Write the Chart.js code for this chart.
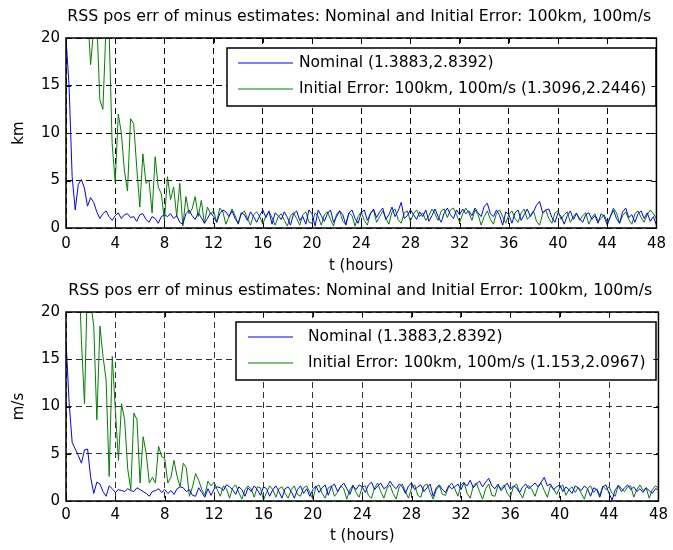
<!DOCTYPE html>
<html><head><meta charset="utf-8">
<script src="https://cdn.jsdelivr.net/npm/chart.js@4/dist/chart.umd.min.js"></script>
<style>
html,body{margin:0;padding:0;background:#fff;}
#wrap{position:relative;width:673px;height:550px;overflow:hidden;background:#fff;}
.c{position:absolute;left:0;width:673px;height:275px;}
</style></head><body>
<div id="wrap">
<div class="c" style="top:0"><canvas id="c1"></canvas></div>
<div class="c" style="top:275px"><canvas id="c2"></canvas></div>
</div>
<script>
// ---------- DATA ----------
const hours = [
0,0.25,0.5,0.75,1,1.25,1.5,1.75,
2,2.25,2.5,2.75,3,3.25,3.5,3.75,
4,4.25,4.5,4.75,5,5.25,5.5,5.75,
6,6.25,6.5,6.75,7,7.25,7.5,7.75,
8,8.25,8.5,8.75,9,9.25,9.5,9.75,
10,10.25,10.5,10.75,11,11.25,11.5,11.75,
12,12.25,12.5,12.75,13,13.25,13.5,13.75,
14,14.25,14.5,14.75,15,15.25,15.5,15.75,
16,16.25,16.5,16.75,17,17.25,17.5,17.75,
18,18.25,18.5,18.75,19,19.25,19.5,19.75,
20,20.25,20.5,20.75,21,21.25,21.5,21.75,
22,22.25,22.5,22.75,23,23.25,23.5,23.75,
24,24.25,24.5,24.75,25,25.25,25.5,25.75,
26,26.25,26.5,26.75,27,27.25,27.5,27.75,
28,28.25,28.5,28.75,29,29.25,29.5,29.75,
30,30.25,30.5,30.75,31,31.25,31.5,31.75,
32,32.25,32.5,32.75,33,33.25,33.5,33.75,
34,34.25,34.5,34.75,35,35.25,35.5,35.75,
36,36.25,36.5,36.75,37,37.25,37.5,37.75,
38,38.25,38.5,38.75,39,39.25,39.5,39.75,
40,40.25,40.5,40.75,41,41.25,41.5,41.75,
42,42.25,42.5,42.75,43,43.25,43.5,43.75,
44,44.25,44.5,44.75,45,45.25,45.5,45.75,
46,46.25,46.5,46.75,47,47.25,47.5,47.75,48];

const xTicks = [0,4,8,12,16,20,24,28,32,36,40,44,48];
const yTicks = [0,5,10,15,20];

const posNominal = [
20,15,5.4,1.9,4.6,5.1,4.2,2.3,
3.2,2.7,1.7,1.0,1.5,1.8,1.2,0.8,
1.3,1.6,1.0,1.4,1.5,1.1,1.2,0.7,
1.4,1.5,0.9,0.6,1.2,1.0,0.5,1.2,
1.4,1.2,1.5,1.0,1.3,0.6,0.4,1.5,
1.9,1.3,0.9,1.6,1.1,0.5,1.0,1.6,
1.2,0.6,1.5,1.9,1.7,1.2,1.8,1.0,
0.5,1.6,1.4,0.8,1.7,1.2,0.6,1.3,
1.9,1.1,1.8,0.4,1.6,1.3,0.9,1.7,
1.1,0.3,1.5,1.8,0.8,1.2,0.4,1.9,
1.5,0.2,1.9,1.3,0.7,1.5,1.9,0.6,
1.2,1.8,1.4,0.3,1.6,1.9,1.0,0.5,
1.6,1.9,0.8,1.5,2.0,1.1,1.7,2.1,
0.9,1.4,2.2,1.2,1.8,2.7,1.0,1.3,
1.9,1.4,0.9,1.7,1.2,1.9,0.7,1.3,
2.0,1.2,0.6,1.6,2.1,1.4,1.0,1.9,
1.4,2.0,1.5,1.8,1.3,2.1,1.6,1.2,
2.3,2.6,1.5,1.2,1.9,1.3,0.3,1.7,
1.4,0.5,1.6,1.9,0.8,1.4,2.0,1.2,
1.7,2.4,2.8,1.6,1.9,2.0,1.1,0.6,
1.6,1.2,0.4,1.3,1.8,0.9,1.5,1.0,
0.6,1.4,1.6,0.9,1.3,0.5,1.5,1.2,
0.3,1.2,1.9,1.0,0.5,1.7,2.1,1.1,
1.4,0.6,1.5,1.8,1.0,1.6,0.7,1.2,0.3];

const posInitErr = [
40,38,35,32,30,28,26,23,
17.2,21,22,13.5,12.5,21,21,8.9,
4.8,12,10,6,3.9,11.5,11,6.4,
2.2,7.8,4.7,5.0,1.6,7.5,4.3,3.6,
0.8,5.4,3.0,4.3,1.2,4.7,0.2,3.3,
1.5,2.0,3.3,1.2,2.9,0.5,2.2,1.5,
1.8,0.6,2.1,1.7,0.4,1.2,2.0,1.3,
0.4,1.5,1.8,1.0,0.3,1.4,1.7,1.2,
0.4,1.3,1.7,1.1,0.3,1.2,1.5,0.8,
0.2,1.3,1.6,1.0,0.3,1.4,1.7,0.6,
0.5,1.6,1.2,0.3,1.4,1.7,0.9,0.2,
1.5,1.8,0.7,0.4,1.6,1.3,0.2,1.2,
1.7,0.8,0.3,1.6,1.9,0.6,1.2,1.8,
1.0,0.4,1.7,2.0,0.9,0.5,1.6,1.8,
0.7,1.5,1.9,1.2,1.6,0.8,1.3,2.0,
1.5,0.8,1.8,2.0,1.1,1.9,2.1,1.4,
0.6,1.5,2.1,1.6,0.8,1.9,1.4,0.3,
1.2,1.8,0.9,0.4,1.6,1.9,1.2,0.5,
1.4,1.8,1.0,0.6,1.6,2.0,0.9,1.3,
1.8,0.7,0.3,1.5,1.9,1.0,0.5,1.6,
1.8,0.9,1.4,1.7,0.6,1.2,1.6,0.8,
1.3,1.6,0.4,1.1,1.5,0.7,1.0,1.4,
0.6,1.2,2.1,1.6,0.5,1.3,1.7,0.9,
0.4,1.5,1.8,1.1,0.6,1.4,1.9,1.5,1.0];

const velNominal = [
17,10.5,6.2,5.5,4.8,4.0,5.4,5.5,
2.5,0.8,2.0,1.8,1.0,0.5,1.6,1.3,
0.9,1.2,1.1,1.0,1.3,1.1,1.0,1.4,
1.2,1.0,0.8,0.5,1.0,1.1,1.3,0.9,
1.2,0.8,1.1,0.7,1.3,1.5,1.4,1.0,
1.2,0.6,0.5,1.4,0.9,0.4,1.3,0.6,
1.3,1.5,1.4,1.1,1.7,1.5,1.2,0.7,
1.5,1.2,0.5,1.4,1.0,1.6,1.2,0.6,
1.5,1.3,0.5,1.2,1.6,1.0,0.3,1.3,
1.5,1.0,0.3,1.2,1.6,0.8,1.3,0.5,
1.2,1.6,0.9,1.4,1.7,0.6,1.5,1.8,
1.0,1.5,1.9,1.3,0.7,1.6,1.2,1.7,
1.5,0.9,1.7,2.0,1.2,1.6,1.9,1.3,
1.5,2.1,1.6,1.3,1.8,1.5,0.8,1.6,
1.9,1.2,1.5,1.7,1.0,1.4,1.8,0.5,
1.4,1.7,1.2,0.9,1.6,1.3,1.5,1.8,
1.2,1.9,1.6,2.2,1.4,1.8,2.1,1.5,
2.0,2.4,1.6,1.3,1.8,1.1,1.5,1.9,
1.2,1.6,1.4,0.9,1.5,1.8,1.3,1.6,
1.9,1.5,2.0,2.5,1.6,1.8,1.2,1.5,
1.7,1.0,1.5,1.2,0.8,1.6,1.4,1.1,
1.6,1.3,0.5,1.4,1.2,0.4,1.5,1.7,
0.8,0.1,1.2,1.6,1.0,1.4,1.7,1.2,
1.5,1.0,1.3,0.9,1.4,1.1,0.8,1.3,1.2];

const velInitErr = [
60,48,38,30,26,17,10.3,24,
21,18.5,8.6,18.5,15.3,12.8,2.6,15.3,
9.6,4.3,10.3,8.6,3.4,1.2,9.3,8.6,
1.9,6.8,5.0,1.9,2.5,1.9,5.8,4.7,
4.5,1.9,2.5,4.3,2.6,1.5,4.0,3.5,
0.5,1.5,2.9,2.2,1.2,0.6,2.1,1.6,
2.0,1.2,0.5,1.6,1.3,0.3,1.4,1.7,
0.9,0.2,1.2,1.6,1.3,0.4,1.5,1.4,
0.1,0.9,1.6,1.2,0.4,1.3,1.5,0.8,
0.3,1.2,1.6,0.7,0.5,1.4,1.6,0.9,
0.2,1.5,1.7,0.8,0.3,1.4,1.6,0.5,
0.9,1.6,1.3,0.2,1.2,1.7,0.9,0.4,
1.5,1.6,0.6,0.3,1.4,1.9,1.0,0.3,
1.3,1.7,0.8,0.2,1.5,1.8,1.0,0.3,
1.4,1.7,0.6,0.4,1.6,1.8,0.9,0.2,
1.2,1.6,0.7,0.6,1.5,1.9,1.3,0.5,
1.7,2.0,0.8,0.3,1.6,1.9,1.0,0.2,
1.3,1.8,0.6,0.5,1.6,1.3,1.7,0.8,
0.4,1.5,1.8,0.9,0.3,1.4,1.6,1.2,
0.5,1.5,1.9,1.1,0.4,1.6,1.3,0.7,
1.4,1.7,0.6,1.2,1.5,0.9,1.4,0.8,
0.2,1.3,1.6,0.9,1.3,0.6,1.6,1.2,
1.5,0.8,0.5,1.7,1.3,1.0,1.5,1.6,
0.4,1.2,1.7,1.1,1.4,0.3,1.2,1.6,1.4];

const chartTitle = 'RSS pos err of minus estimates: Nominal and Initial Error: 100km, 100m/s';
const xLabel = 't (hours)';
const topYLabel = 'km';
const botYLabel = 'm/s';
const topLegend = ['Nominal (1.3883,2.8392)', 'Initial Error: 100km, 100m/s (1.3096,2.2446)'];
const botLegend = ['Nominal (1.3883,2.8392)', 'Initial Error: 100km, 100m/s (1.153,2.0967)'];
const seriesColors = ['#0000ff', '#008000'];

// ---------- RENDER ----------
const FONT = 'DejaVu Sans';

const framePlugin = {
  id: 'matlabFrame',
  afterDatasetsDraw(chart, args, opts) {
    const {ctx} = chart;
    const L = opts.legend;
    ctx.save();
    ctx.setLineDash([]);
    ctx.fillStyle = '#ffffff';
    ctx.fillRect(L.x0, L.y0, L.x1 - L.x0, L.y1 - L.y0);
    ctx.strokeStyle = '#000000';
    ctx.lineWidth = 1.5;
    ctx.strokeRect(L.x0, L.y0, L.x1 - L.x0, L.y1 - L.y0);
    ctx.font = '15.5px "' + FONT + '"';
    ctx.textBaseline = 'middle';
    ctx.textAlign = 'left';
    chart.data.datasets.forEach((ds, i) => {
      const y = L.rows[i];
      ctx.beginPath();
      ctx.strokeStyle = seriesColors[i];
      ctx.lineWidth = 1.2;
      ctx.moveTo(L.lx0, y);
      ctx.lineTo(L.lx1, y);
      ctx.stroke();
      ctx.fillStyle = '#000000';
      ctx.fillText(ds.label, L.tx, y);
    });
    ctx.restore();
  },
  afterDraw(chart, args, opts) {
    const {ctx, chartArea: a, scales} = chart;
    ctx.save();
    ctx.setLineDash([]);
    ctx.fillStyle = '#000';
    ctx.font = '15.8px "' + FONT + '"';
    ctx.textAlign = 'center';
    ctx.textBaseline = 'middle';
    ctx.fillText(opts.title, (a.left + a.right) / 2 - 2, opts.titleY);
    ctx.strokeStyle = '#000';
    ctx.lineWidth = 1;
    ctx.beginPath();
    scales.x.ticks.forEach(t => {
      const px = Math.round(scales.x.getPixelForValue(t.value)) + 0.5;
      ctx.moveTo(px, a.bottom); ctx.lineTo(px, a.bottom - 5);
      ctx.moveTo(px, a.top); ctx.lineTo(px, a.top + 5);
    });
    scales.y.ticks.forEach(t => {
      const py = Math.round(scales.y.getPixelForValue(t.value)) + 0.5;
      ctx.moveTo(a.left, py); ctx.lineTo(a.left + 5, py);
      ctx.moveTo(a.right, py); ctx.lineTo(a.right - 5, py);
    });
    ctx.stroke();
    ctx.lineWidth = 1.5;
    ctx.strokeRect(a.left, a.top, a.right - a.left, a.bottom - a.top);
    ctx.restore();
  }
};

function makeChart(id, yLabel, s1, s2, labels, geo) {
  return new Chart(document.getElementById(id), {
    type: 'line',
    data: {
      datasets: [
        {label: labels[0], data: hours.map((t, i) => ({x: t, y: s1[i]})),
         borderColor: seriesColors[0], borderWidth: 1, pointRadius: 0, tension: 0, fill: false},
        {label: labels[1], data: hours.map((t, i) => ({x: t, y: s2[i]})),
         borderColor: seriesColors[1], borderWidth: 1, pointRadius: 0, tension: 0, fill: false}
      ]
    },
    options: {
      responsive: true, maintainAspectRatio: false, animation: false,
      layout: {padding: {top: geo.top, right: 10, bottom: 0, left: 0}},
      plugins: {
        legend: {display: false}, tooltip: {enabled: false}, title: {display: false},
        matlabFrame: {title: chartTitle, titleY: geo.titleY, legend: geo.legend}
      },
      scales: {
        x: {
          type: 'linear', min: 0, max: 48,
          afterBuildTicks: s => { s.ticks = xTicks.map(v => ({value: v})); },
          ticks: {font: {family: FONT, size: 15}, color: '#000', padding: geo.xTickPad, autoSkip: false, maxRotation: 0},
          grid: {color: geo.gridColor, lineWidth: 1, drawTicks: false},
          border: {display: false, dash: [6, 4]},
          title: {display: true, text: xLabel, color: '#000', font: {family: FONT, size: 15}, padding: {top: 0, bottom: geo.xTitlePad}},
          afterFit: s => { s.height = 275 - geo.bottom; }
        },
        y: {
          type: 'linear', min: 0, max: 20,
          afterBuildTicks: s => { s.ticks = yTicks.map(v => ({value: v})); },
          ticks: {font: {family: FONT, size: 15}, color: '#000', padding: 6},
          grid: {color: geo.gridColor, lineWidth: 1, drawTicks: false},
          border: {display: false, dash: [6, 4]},
          title: {display: true, text: yLabel, color: '#000', font: {family: FONT, size: 15}, padding: {top: 10, bottom: 0}},
          afterFit: s => { s.width = 66; }
        }
      }
    },
    plugins: [framePlugin]
  });
}

makeChart('c1', topYLabel, posNominal, posInitErr, topLegend, {
  top: 38, bottom: 228, titleY: 17, xTickPad: 7, xTitlePad: 0, gridColor: '#000',
  legend: {x0: 227, x1: 656, y0: 48, y1: 106, rows: [63, 89], lx0: 238, lx1: 293, tx: 299}
});
makeChart('c2', botYLabel, velNominal, velInitErr, botLegend, {
  top: 37, bottom: 226, titleY: 16, xTickPad: 5, xTitlePad: 5, gridColor: '#333',
  legend: {x0: 236, x1: 656, y0: 47, y1: 105, rows: [62, 88], lx0: 248, lx1: 293, tx: 308}
});
</script>
</body></html>
